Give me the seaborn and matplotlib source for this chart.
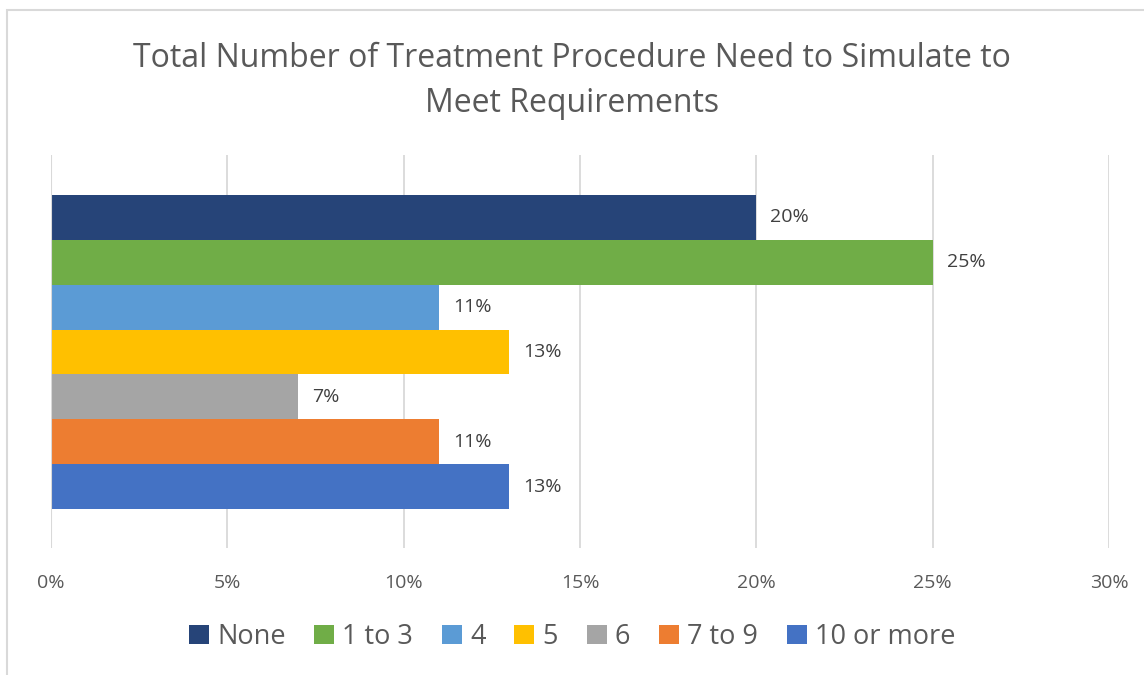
import pandas as pd
import seaborn as sns
import matplotlib.pyplot as plt
from matplotlib.patches import Patch, Rectangle

# Data
categories = ['None', '1 to 3', '4', '5', '6', '7 to 9', '10 or more']
percents = [20, 25, 11, 13, 7, 11, 13]
colors = ['#264478', '#70AD47', '#5B9BD5', '#FFC000', '#A5A5A5', '#ED7D31', '#4472C4']
x_ticks = [0, 5, 10, 15, 20, 25, 30]

df = pd.DataFrame({'group': categories, 'pct': percents})
palette = dict(zip(categories, colors))

sns.set_style('white')
plt.rcParams['font.family'] = ['Open Sans', 'DejaVu Sans']

fig = plt.figure(figsize=(11.44, 6.75), dpi=100)
ax = fig.add_axes([51 / 1144, 1 - 548 / 675, (1109 - 51) / 1144, (548 - 155) / 675])

sns.barplot(data=df, x='pct', y='group', hue='group', palette=palette,
            order=categories, hue_order=categories, width=1, orient='h',
            saturation=1, legend=False, ax=ax, zorder=3, linewidth=0)

# data labels
for cont in ax.containers:
    ax.bar_label(cont, labels=[f'{v:.0f}%' for v in cont.datavalues],
                 padding=10, fontsize=14, color='#404040')

ax.set_xlim(0, 30)
ax.set_ylim(6.5 + 39 / 45, -0.5 - 40 / 45)
ax.set_xticks(x_ticks)
ax.set_xticklabels([f'{t}%' for t in x_ticks], fontsize=14, color='#595959')
ax.tick_params(axis='x', length=0, pad=19)
ax.set_yticks([])
ax.set_xlabel('')
ax.set_ylabel('')
ax.grid(axis='x', color='#d9d9d9', linewidth=1.3, zorder=0)
for s in ax.spines.values():
    s.set_visible(False)
ax.axvline(0, color='#d9d9d9', linewidth=1.5, zorder=4)

fig.text(0.5, 1 - 81 / 675,
         'Total Number of Treatment Procedure Need to Simulate to\nMeet Requirements',
         ha='center', va='center', fontsize=23, color='#595959', linespacing=1.5)

handles = [Patch(facecolor=c, edgecolor='none') for c in colors]
fig.legend(handles, categories, loc='center', bbox_to_anchor=(0.5, 1 - 637 / 675),
           ncol=7, frameon=False, fontsize=19.5, labelcolor='#595959',
           handlelength=0.75, handleheight=0.75, handletextpad=0.3, columnspacing=1.05)

# chart area border
fig.patches.append(Rectangle((7 / 1144, -0.1), 1.2, 1 - 10 / 675 + 0.1,
                             transform=fig.transFigure, fill=False,
                             edgecolor='#d9d9d9', linewidth=1.5))

fig.savefig('out.png', dpi=100)
